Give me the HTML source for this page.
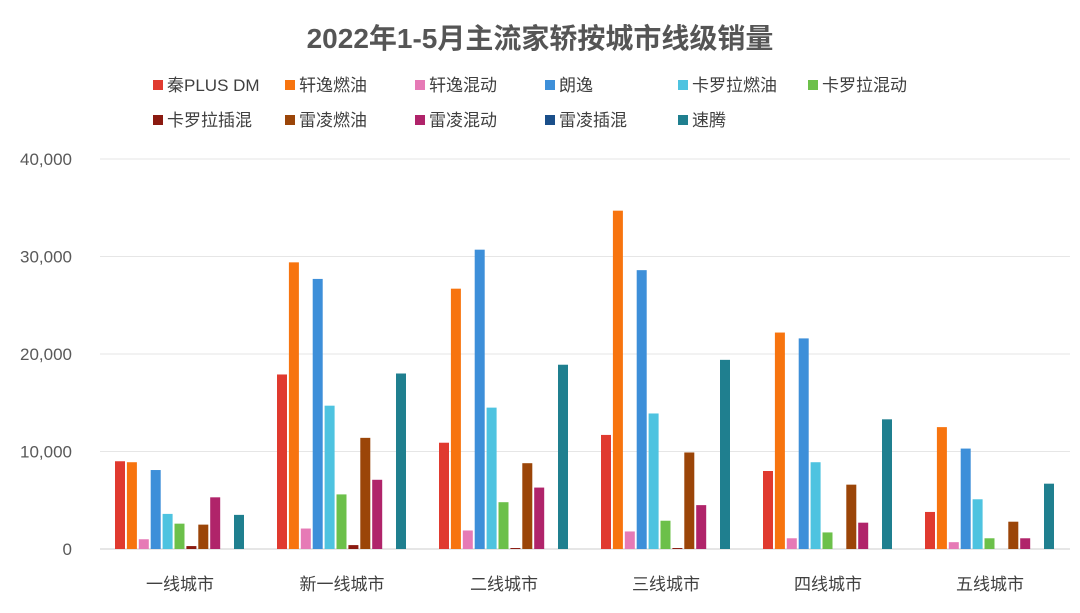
<!DOCTYPE html>
<html><head><meta charset="utf-8"><style>
body{margin:0;background:#fff;font-family:"Liberation Sans","Noto Sans CJK SC",sans-serif;}
svg text{font-family:"Liberation Sans","Noto Sans CJK SC",sans-serif;}
</style></head><body>
<svg id="chart" width="1080" height="608">
<text x="540" y="48" text-anchor="middle" font-size="28" font-weight="bold" fill="#555">2022年1-5月主流家轿按城市线级销量</text>
<g id="grid"></g><g id="bars"></g><g id="legend"></g>
</svg>
<script>
const categories=["一线城市","新一线城市","二线城市","三线城市","四线城市","五线城市"];
const seriesNames=["秦PLUS DM","轩逸燃油","轩逸混动","朗逸","卡罗拉燃油","卡罗拉混动","卡罗拉插混","雷凌燃油","雷凌混动","雷凌插混","速腾"];
const colors=["#e03a2f","#f7740f","#e67ab6","#3d8fd9","#4ec3e0","#6cc04a","#8b1a10","#9b4508","#b0246a","#1a4f8a","#1f7f8f"];
const s0=[9000,17900,10900,11700,8000,3800];
const s1=[8900,29400,26700,34700,22200,12500];
const s2=[1000,2100,1900,1800,1100,700];
const s3=[8100,27700,30700,28600,21600,10300];
const s4=[3600,14700,14500,13900,8900,5100];
const s5=[2600,5600,4800,2900,1700,1100];
const s6=[300,400,100,100,0,0];
const s7=[2500,11400,8800,9900,6600,2800];
const s8=[5300,7100,6300,4500,2700,1100];
const s9=[0,0,0,0,0,0];
const s10=[3500,18000,18900,19400,13300,6700];
const series=[s0,s1,s2,s3,s4,s5,s6,s7,s8,s9,s10];
const ticks=[0,10000,20000,30000,40000];
const ns="http://www.w3.org/2000/svg";
const y=v=>549-v*(390/40000);
const gx=i=>115+i*162;
const grid=document.getElementById('grid');
ticks.forEach(t=>{
 const l=document.createElementNS(ns,'line');
 l.setAttribute('x1',100);l.setAttribute('x2',1070);l.setAttribute('y1',y(t));l.setAttribute('y2',y(t));
 l.setAttribute('stroke',t===0?'#ccc':'#e6e6e6');
 
 
 grid.appendChild(l);
 const tx=document.createElementNS(ns,'text');
 tx.setAttribute('x',72);tx.setAttribute('y',y(t)+6);tx.setAttribute('text-anchor','end');
 tx.setAttribute('font-size','17');tx.setAttribute('fill','#595959');
 tx.textContent=t.toLocaleString('en-US');
 
 
 grid.appendChild(tx);
});
const bars=document.getElementById('bars');
categories.forEach((c,i)=>{
 series.forEach((s,k)=>{
  const r=document.createElementNS(ns,'rect');
  r.setAttribute('x',gx(i)+k*11.9);r.setAttribute('width',10);
  r.setAttribute('y',y(s[i]));r.setAttribute('height',Math.max(0,549-y(s[i])));
  r.setAttribute('fill',colors[k]);
  
  
  bars.appendChild(r);
 });
 const tx=document.createElementNS(ns,'text');
 tx.setAttribute('x',gx(i)+65);tx.setAttribute('y',590);tx.setAttribute('text-anchor','middle');
 tx.setAttribute('font-size','17');tx.setAttribute('fill','#404040');
 tx.textContent=c;
 
 
 bars.appendChild(tx);
});
const lg=document.getElementById('legend');
const lx=[153,285,415,545,678,808];
seriesNames.forEach((n,k)=>{
 const row=k<6?0:1, col=k<6?k:k-6;
 const x=lx[col], yy=row?124:89;
 const r=document.createElementNS(ns,'rect');
 r.setAttribute('x',x);r.setAttribute('y',yy-9);r.setAttribute('width',10);r.setAttribute('height',10);
 r.setAttribute('fill',colors[k]);
 
 
 lg.appendChild(r);
 const t=document.createElementNS(ns,'text');
 t.setAttribute('x',x+14);t.setAttribute('y',yy+2);t.setAttribute('font-size','17');t.setAttribute('fill','#404040');
 t.textContent=n;
 
 
 lg.appendChild(t);
});
</script>
</body></html>
